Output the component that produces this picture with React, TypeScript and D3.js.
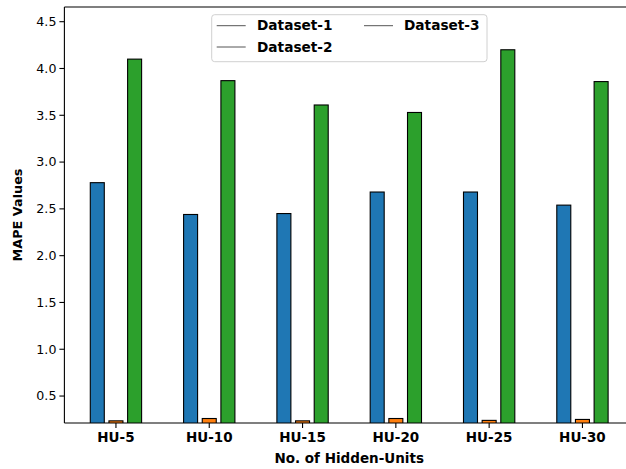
import React from "react";
import * as d3 from "d3";

const categories = ["HU-5", "HU-10", "HU-15", "HU-20", "HU-25", "HU-30"];
const dataset1 = [2.78, 2.44, 2.45, 2.68, 2.68, 2.54];
const dataset2 = [0.235, 0.26, 0.235, 0.26, 0.24, 0.25];
const dataset3 = [4.1, 3.87, 3.61, 3.53, 4.2, 3.86];
const seriesNames = ["Dataset-1", "Dataset-2", "Dataset-3"];
const seriesColors = ["#1f77b4", "#ff7f0e", "#2ca02c"];
const yTicks = [0.5, 1.0, 1.5, 2.0, 2.5, 3.0, 3.5, 4.0, 4.5];

const W = 626;
const H = 469;
const left = 64.4;
const right = 634;
const top = 7;
const bottom = 423;
const font = "DejaVu Sans, sans-serif";

export default function App() {
  const x = d3.scaleLinear().domain([-0.5525, 5.5525]).range([left, right]);
  const y = d3.scaleLinear().domain([0.212, 4.657]).range([bottom, top]);
  const unit = x(1) - x(0);
  const bw = 0.15 * unit;
  const offsets = [-0.2, 0, 0.2];
  const series = [dataset1, dataset2, dataset3];

  return (
    <svg width={W} height={H} style={{ position: "absolute", left: 0, top: 0, background: "#fff" }}>
      <defs>
        <clipPath id="plot">
          <rect x={left} y={top} width={right - left} height={bottom - top} />
        </clipPath>
      </defs>
      <rect x={0} y={0} width={W} height={H} fill="#fff" />
      <g clipPath="url(#plot)">
        {series.map((vals, s) =>
          vals.map((v, i) => (
            <rect
              key={`${s}-${i}`}
              x={x(i + offsets[s]) - bw / 2}
              y={y(v)}
              width={bw}
              height={y(0) - y(v)}
              fill={seriesColors[s]}
              stroke="#000"
              strokeWidth={1.1}
            />
          ))
        )}
      </g>
      {/* spines */}
      <line x1={left} x2={left} y1={top} y2={bottom} stroke="#000" strokeWidth={1.1} />
      <line x1={left} x2={right} y1={bottom} y2={bottom} stroke="#000" strokeWidth={1.1} />
      <line x1={left} x2={right} y1={top} y2={top} stroke="#000" strokeWidth={1.1} />
      {/* y ticks */}
      {yTicks.map((t) => (
        <g key={t}>
          <line x1={left - 5} x2={left} y1={y(t)} y2={y(t)} stroke="#000" strokeWidth={1.1} />
          <text x={left - 8} y={y(t)} dy="0.35em" textAnchor="end" fontFamily={font} fontSize={12.6} fill="#000">
            {t.toFixed(1)}
          </text>
        </g>
      ))}
      {/* x ticks */}
      {categories.map((c, i) => (
        <g key={c}>
          <line x1={x(i)} x2={x(i)} y1={bottom} y2={bottom + 5} stroke="#000" strokeWidth={1.1} />
          <text x={x(i)} y={437} dy="0.35em" textAnchor="middle" fontFamily={font} fontSize={13.5} fontWeight="bold" fill="#000">
            {c}
          </text>
        </g>
      ))}
      <text x={(left + right) / 2} y={458} dy="0.35em" textAnchor="middle" fontFamily={font} fontSize={13.5} fontWeight="bold" fill="#000">
        No. of Hidden-Units
      </text>
      <text
        transform={`translate(18,${(top + bottom) / 2}) rotate(-90)`}
        textAnchor="middle"
        dy="0.35em"
        fontFamily={font}
        fontSize={12.8}
        fontWeight="bold"
        fill="#000"
      >
        MAPE Values
      </text>
      {/* legend */}
      <rect x={211.7} y={14.7} width={275.3} height={47} rx={3} fill="#fff" fillOpacity={0.8} stroke="#d0d0d0" strokeWidth={1} />
      {seriesNames.map((n, k) => {
        const col = k === 2 ? 1 : 0;
        const row = k === 1 ? 1 : 0;
        const lx = col === 0 ? 216.7 : 364;
        const tx = col === 0 ? 257 : 404;
        const ly = row === 0 ? 25.7 : 47;
        return (
          <g key={n}>
            <line x1={lx} x2={lx + 29} y1={ly} y2={ly} stroke="#555" strokeWidth={1} />
            <text x={tx} y={ly} dy="0.35em" fontFamily={font} fontSize={13.7} fontWeight="bold" fill="#000">
              {n}
            </text>
          </g>
        );
      })}
    </svg>
  );
}
